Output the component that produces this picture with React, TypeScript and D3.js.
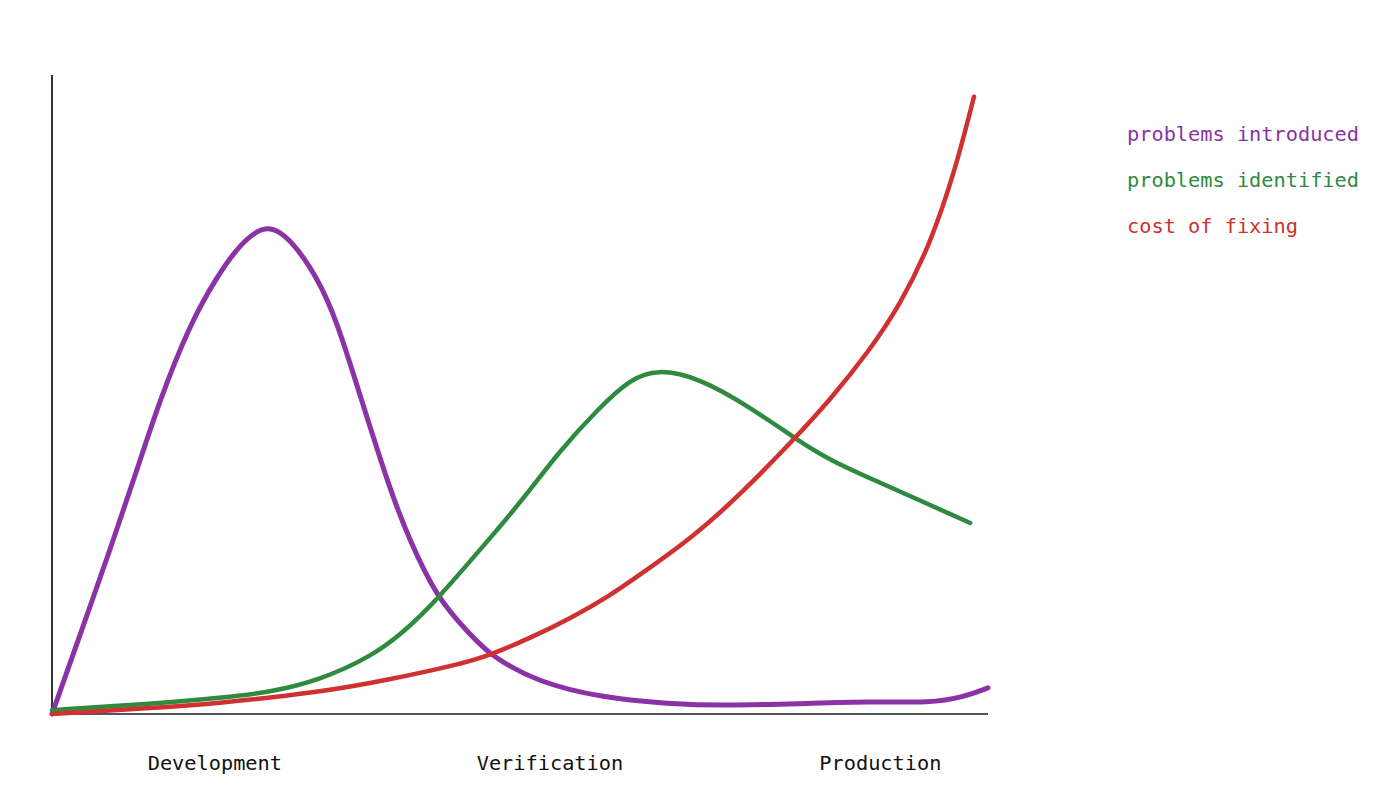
import React from "react";
import * as d3 from "d3";

const categories = ["Development", "Verification", "Production"];
const categoryPos = [17.4, 53.2, 88.5];

const purpleX = [0, 3.0, 6.2, 8.9, 11.5, 14.7, 17.6, 20.1, 23.0, 25.7, 28.3, 30.4, 32.9, 36.1, 38.2, 41.1, 44.7, 46.8, 51.8, 58.9, 66.0, 71.4, 79.9, 87.4, 93.8, 97.5, 100];
const purpleY = [0, 12.4, 25.7, 37.4, 49.1, 60.9, 68.4, 73.6, 77.0, 74.0, 68.4, 61.7, 49.9, 35.1, 27.2, 18.2, 12.4, 9.2, 5.0, 2.5, 1.6, 1.3, 1.6, 2.0, 1.7, 2.7, 4.1];

const greenX = [0, 10.5, 17.9, 23.3, 28.6, 34.0, 37.5, 41.1, 46.6, 50.0, 54.3, 58.5, 61.8, 64.6, 69.2, 74.6, 79.6, 83.1, 88.5, 93.8, 98.1];
const greenY = [0.6, 1.6, 2.5, 3.4, 5.3, 8.9, 12.7, 17.8, 27.2, 33.0, 41.3, 48.0, 52.4, 54.0, 52.6, 48.0, 42.9, 39.7, 36.2, 32.7, 29.9];

const redX = [0, 10.5, 17.9, 28.6, 35.8, 43.6, 46.8, 51.1, 55.3, 59.6, 63.1, 68.5, 73.8, 79.2, 83.1, 87.4, 90.6, 93.8, 96.5, 98.5];
const redY = [0, 0.9, 1.7, 3.4, 5.3, 7.8, 9.2, 11.9, 14.9, 18.5, 22.1, 27.7, 34.7, 42.9, 49.1, 57.0, 64.0, 73.4, 85.1, 96.6];

const seriesNames = ["problems introduced", "problems identified", "cost of fixing"];
const seriesColors = ["#8a32a6", "#2e8b3e", "#d0302f"];

export default function App() {
  const W = 1383, H = 809;
  const x = d3.scaleLinear().domain([0, 100]).range([52, 988]);
  const y = d3.scaleLinear().domain([0, 100]).range([714, 75]);
  const line = d3.line<[number, number]>().x(d => x(d[0])).y(d => y(d[1])).curve(d3.curveBasis);
  const series = [
    { xs: purpleX, ys: purpleY, w: 5 },
    { xs: greenX, ys: greenY, w: 4.5 },
    { xs: redX, ys: redY, w: 4.5 },
  ];
  const font = "'DejaVu Sans Mono', monospace";
  return (
    <svg width={W} height={H} style={{ position: "absolute", left: 0, top: 0, background: "#fff" }}>
      <line x1={x(0)} x2={x(0)} y1={y(100)} y2={y(0) + 1} stroke="#333" strokeWidth={2} />
      <line x1={x(0)} x2={x(100)} y1={y(0)} y2={y(0)} stroke="#555" strokeWidth={2} />
      {series.map((s, i) => (
        <path key={i} d={line(s.xs.map((v, j) => [v, s.ys[j]] as [number, number])) || ""}
          fill="none" stroke={seriesColors[i]} strokeWidth={s.w} strokeLinecap="round" strokeLinejoin="round" />
      ))}
      {categories.map((c, i) => (
        <text key={c} x={x(categoryPos[i])} y={770} textAnchor="middle" fontFamily={font} fontSize={20.3} fill="#111">{c}</text>
      ))}
      {seriesNames.map((n, i) => (
        <text key={n} x={1127} y={141 + i * 46} fontFamily={font} fontSize={20.3} fill={seriesColors[i]}>{n}</text>
      ))}
    </svg>
  );
}
